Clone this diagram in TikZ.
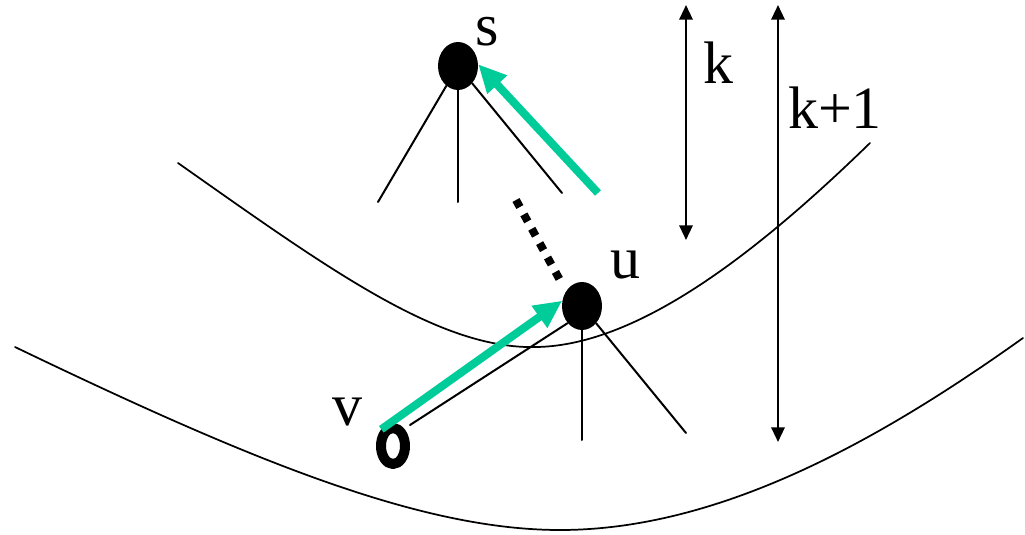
\documentclass[tikz,border=0pt]{standalone}
\usepackage{fontspec}
\setmainfont{Liberation Serif}
\usetikzlibrary{shapes.geometric,arrows.meta}
\definecolor{ngoc}{RGB}{0,204,153}
\begin{document}
\begin{tikzpicture}[x=0.75pt,y=-0.75pt,line join=round,line cap=round]
	\tikzset{
		black-vertex/.style={ellipse,fill=black,minimum width=30pt,minimum height=36pt,inner sep=0pt},
		ring-vertex/.style={ellipse,draw=black,line width=7.5pt,minimum width=18pt,minimum height=27pt,inner sep=0pt},
		tree-edge/.style={line width=1.5pt},
		level-curve/.style={line width=1.3pt},
		green-arrow/.style={draw=ngoc,line width=6pt,line cap=butt,-{Triangle[length=21pt,width=19pt]}},
		level-arrow/.style={line width=1.7pt,{Triangle[length=11pt,width=10pt]}-{Triangle[length=11pt,width=10pt]}},
		big-label/.style={font=\fontsize{45}{54}\selectfont,inner sep=0pt}
	}
	\useasboundingbox (0,0) rectangle (1025,535);
	% hai duong muc
	\draw[level-curve] (178,163) .. controls (330,270) and (440,350) .. (537,347) .. controls (640,345) and (760,250) .. (870,143);
	\draw[level-curve] (15,347) .. controls (250,460) and (420,530) .. (560,530) .. controls (720,530) and (880,440) .. (1023,338);
	% cac dinh
	\node[black-vertex] (s) at (458,66) {};
	\node[black-vertex] (u) at (582,306) {};
	\node[ring-vertex] (v) at (393,446) {};
	\node[big-label] (s-label) at (487,32) {s};
	\node[big-label] (u-label) at (625,265) {u};
	\node[big-label] (v-label) at (347,412) {v};
	% cay con
	\coordinate (s-left) at (378,202);
	\coordinate (s-mid) at (458,202);
	\coordinate (s-right) at (562,193);
	\coordinate (u-mid) at (582,440);
	\coordinate (u-right) at (686,433);
	\coordinate (u-left) at (410,425);
	\draw[tree-edge] (s) -- (s-left);
	\draw[tree-edge] (s) -- (s-mid);
	\draw[tree-edge] (s) -- (s-right);
	\draw[tree-edge] (u) -- (u-mid);
	\draw[tree-edge] (u) -- (u-right);
	\draw[tree-edge] (u.-130) -- (u-left);
	% duong cham
	\coordinate (dot-a) at (516,200);
	\coordinate (dot-b) at (561,282);
	\draw[line width=6pt,line cap=butt,dash pattern=on 6pt off 6.3pt] (dot-a) -- (dot-b);
	% mui ten xanh
	\coordinate (green-start) at (598,193);
	\draw[green-arrow] (green-start) -- (s.5);
	\draw[green-arrow] (v.125) -- (u.165);
	% mui ten do cao
	\coordinate (k-top) at (686,5);
	\coordinate (k-bot) at (686,240);
	\coordinate (k1-top) at (778,5);
	\coordinate (k1-bot) at (778,442);
	\draw[level-arrow] (k-top) -- (k-bot);
	\draw[level-arrow] (k1-top) -- (k1-bot);
	\node[big-label] (k-label) at (718,63) {k};
	\node[big-label] (k1-label) at (835,108) {k+1};
\end{tikzpicture}
\end{document}
